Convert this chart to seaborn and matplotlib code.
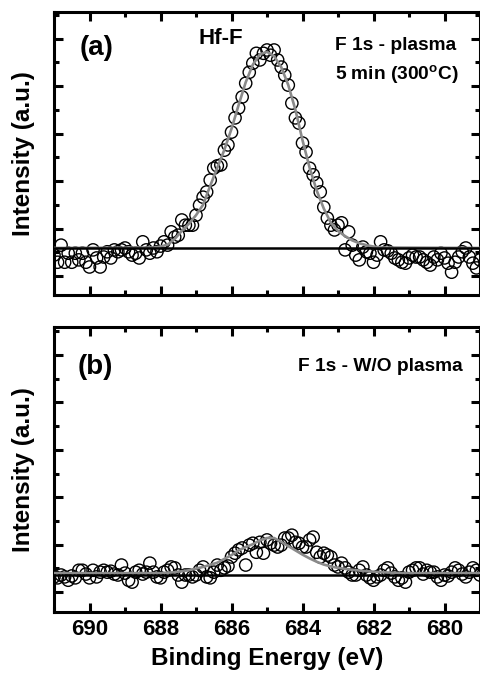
import numpy as np
import pandas as pd
import matplotlib
matplotlib.use("Agg")
import matplotlib.pyplot as plt
from matplotlib.ticker import MultipleLocator
import seaborn as sns

# binding energy grid of the measured points (691.0 -> 679.0 eV, 0.1 eV step)
energy = np.round(np.arange(691.0, 678.95, -0.1), 1)

# (a) F 1s - plasma 5 min (300C), measured points
int_a = [
    0.44, 0.29, 0.65, 0.29, 0.48, 0.29, 0.48, 0.34, 0.48, 0.29,
    0.19, 0.55, 0.38, 0.19, 0.40, 0.51, 0.38, 0.55, 0.51, 0.55,
    0.59, 0.51, 0.44, 0.48, 0.38, 0.72, 0.55, 0.48, 0.59, 0.51,
    0.63, 0.72, 0.65, 0.93, 0.82, 0.86, 1.18, 1.07, 1.07, 1.07,
    1.28, 1.49, 1.66, 1.77, 2.02, 2.27, 2.32, 2.34, 2.65, 2.76,
    3.03, 3.33, 3.54, 3.77, 4.06, 4.29, 4.48, 4.69, 4.55, 4.69,
    4.76, 4.65, 4.76, 4.55, 4.40, 4.23, 4.02, 3.64, 3.33, 3.22,
    2.80, 2.61, 2.27, 2.13, 1.96, 1.77, 1.45, 1.22, 1.07, 0.97,
    1.07, 1.12, 0.55, 0.93, 0.65, 0.44, 0.34, 0.61, 0.51, 0.48,
    0.29, 0.44, 0.72, 0.55, 0.53, 0.48, 0.38, 0.34, 0.29, 0.27,
    0.38, 0.44, 0.40, 0.40, 0.34, 0.29, 0.23, 0.40, 0.34, 0.48,
    0.38, 0.27, 0.08, 0.29, 0.40, 0.51, 0.59, 0.40, 0.27, 0.17,
    0.34,
]

# (b) F 1s - W/O plasma, measured points
int_b = [
    0.32, 0.30, 0.36, 0.32, 0.25, 0.34, 0.30, 0.46, 0.46, 0.38,
    0.30, 0.46, 0.32, 0.42, 0.46, 0.42, 0.44, 0.38, 0.36, 0.57,
    0.40, 0.25, 0.21, 0.42, 0.46, 0.38, 0.42, 0.61, 0.42, 0.32,
    0.30, 0.42, 0.46, 0.53, 0.51, 0.36, 0.21, 0.36, 0.36, 0.32,
    0.36, 0.46, 0.53, 0.32, 0.30, 0.42, 0.57, 0.46, 0.51, 0.55,
    0.74, 0.82, 0.89, 0.93, 0.57, 0.99, 1.03, 0.84, 1.05, 0.82,
    1.10, 1.03, 0.99, 0.95, 0.99, 1.14, 1.14, 1.20, 1.05, 1.03,
    0.95, 0.95, 1.10, 1.16, 0.84, 0.74, 0.82, 0.78, 0.74, 0.57,
    0.53, 0.61, 0.51, 0.42, 0.36, 0.36, 0.46, 0.53, 0.36, 0.30,
    0.25, 0.32, 0.36, 0.46, 0.51, 0.40, 0.32, 0.25, 0.30, 0.21,
    0.42, 0.46, 0.51, 0.51, 0.38, 0.46, 0.42, 0.42, 0.32, 0.25,
    0.36, 0.34, 0.42, 0.51, 0.46, 0.38, 0.32, 0.42, 0.51, 0.46,
    0.36,
]

# fitted Hf-F component
fit_a_e = [691.0, 688.2, 688.0, 687.8, 687.6, 687.4, 687.2, 687.0, 686.8, 686.6,
           686.4, 686.2, 686.0, 685.8, 685.6, 685.4, 685.2, 685.0, 684.8, 684.6,
           684.4, 684.2, 684.0, 683.8, 683.6, 683.4, 683.2, 683.0, 682.8, 682.6,
           682.4, 682.2, 682.0, 681.8, 679.0]
fit_a_i = [0.59, 0.60, 0.62, 0.66, 0.78, 0.95, 1.10, 1.28, 1.50, 1.90,
           2.28, 2.66, 3.10, 3.60, 4.08, 4.45, 4.67, 4.72, 4.63, 4.40,
           4.02, 3.50, 2.86, 2.28, 1.80, 1.42, 1.12, 0.95, 0.84, 0.75,
           0.69, 0.65, 0.62, 0.60, 0.59]

fit_b_e = [691.0, 688.0, 687.6, 687.2, 686.8, 686.4, 686.0, 685.8, 685.6, 685.4,
           685.2, 685.0, 684.8, 684.6, 684.4, 684.2, 684.0, 683.8, 683.6, 683.4,
           683.2, 683.0, 682.6, 682.2, 681.8, 681.2, 679.0]
fit_b_i = [0.40, 0.40, 0.42, 0.46, 0.53, 0.62, 0.78, 0.88, 0.95, 1.01,
           1.09, 1.14, 1.14, 1.06, 0.97, 0.88, 0.79, 0.71, 0.64, 0.58,
           0.54, 0.51, 0.47, 0.44, 0.42, 0.40, 0.40]

base_a = 0.59
base_b = 0.36

sns.set_style("ticks", {"axes.edgecolor": "black", "text.color": "black",
                        "xtick.color": "black", "ytick.color": "black",
                        "axes.labelcolor": "black"})
plt.rcParams["font.family"] = ["Liberation Sans", "DejaVu Sans"]
plt.rcParams["font.weight"] = "bold"
plt.rcParams["mathtext.fontset"] = "custom"
plt.rcParams["mathtext.rm"] = "Liberation Sans:bold"
plt.rcParams["mathtext.bf"] = "Liberation Sans:bold"


def style_axes(ax, ylim, show_xlabels):
    ax.set_xlim(691, 679)
    ax.set_ylim(*ylim)
    ax.xaxis.set_major_locator(MultipleLocator(2))
    ax.xaxis.set_minor_locator(MultipleLocator(1))
    ax.yaxis.set_major_locator(MultipleLocator(1))
    ax.yaxis.set_minor_locator(MultipleLocator(0.5))
    ax.tick_params(which="both", direction="in", top=True, right=True, width=2.2,
                   color="black")
    ax.tick_params(which="major", length=6.5)
    ax.tick_params(which="minor", length=3.5)
    ax.tick_params(axis="y", labelleft=False)
    ax.tick_params(axis="x", labelbottom=show_xlabels, labelsize=16, pad=5,
                   labelcolor="black")
    for lab in ax.get_xticklabels():
        lab.set_fontweight("bold")
    for s in ax.spines.values():
        s.set_linewidth(2.2)
        s.set_color("black")
        s.set_visible(True)
    ax.set_ylabel("Intensity (a.u.)", fontsize=17.5, fontweight="bold", labelpad=10,
                  color="black")


def draw_panel(ax, y, fe, fi, base):
    df = pd.DataFrame({"E": energy, "I": y})
    sns.scatterplot(data=df, x="E", y="I", ax=ax, marker="o", s=78,
                    facecolor="none", edgecolor="black", linewidth=1.0, zorder=2)
    fit = pd.DataFrame({"E": fe, "I": fi})
    sns.lineplot(data=fit, x="E", y="I", ax=ax, color="#8a8a8a", linewidth=1.9,
                 sort=False, zorder=3)
    ax.axhline(base, color="black", linewidth=1.8, zorder=4)
    ax.set_xlabel("")


fig = plt.figure(figsize=(4.81, 6.78), dpi=100)
ax_a = fig.add_axes([54 / 481, 1 - 295 / 678, 426 / 481, 283 / 678])
ax_b = fig.add_axes([54 / 481, 1 - 612 / 678, 426 / 481, 285 / 678])

draw_panel(ax_a, int_a, fit_a_e, fit_a_i, base_a)
style_axes(ax_a, (-0.4, 5.56), False)
draw_panel(ax_b, int_b, fit_b_e, fit_b_i, base_b)
style_axes(ax_b, (-0.42, 5.59), True)
ax_b.set_xlabel("Binding Energy (eV)", fontsize=17.5, fontweight="bold", labelpad=5,
                color="black")

ax_a.text(0.06, 0.873, "(a)", transform=ax_a.transAxes, fontsize=20, fontweight="bold", va="center")
ax_a.text(0.34, 0.905, "Hf-F", transform=ax_a.transAxes, fontsize=16, fontweight="bold", va="center")
ax_a.text(0.66, 0.88, "F 1s - plasma", transform=ax_a.transAxes, fontsize=13.8, fontweight="bold", va="center")
ax_a.text(0.66, 0.777, r"5 min (300$^{\mathrm{o}}$C)", transform=ax_a.transAxes, fontsize=13.8,
          fontweight="bold", va="center")
ax_b.text(0.055, 0.86, "(b)", transform=ax_b.transAxes, fontsize=20, fontweight="bold", va="center")
ax_b.text(0.573, 0.86, "F 1s - W/O plasma", transform=ax_b.transAxes, fontsize=13.8,
          fontweight="bold", va="center")

fig.savefig("out.png", dpi=100)
